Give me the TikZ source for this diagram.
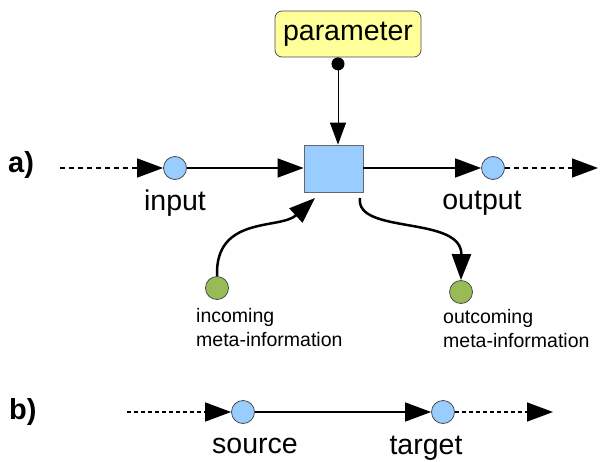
\documentclass[tikz,border=0pt]{standalone}
\usepackage{fontspec}
\setmainfont{Liberation Sans}
\usepackage{tikz}
\usetikzlibrary{arrows.meta,calc}
\definecolor{portblue}{HTML}{99CCFF}
\definecolor{paramyellow}{HTML}{FFFF99}
\definecolor{metagreen}{HTML}{99BB55}

\begin{document}
\begin{tikzpicture}[
    x=1pt, y=-1pt,
    port/.style={circle, draw=black!70, line width=0.8pt, fill=portblue, minimum size=23pt, inner sep=0pt},
    meta/.style={circle, draw=black!70, line width=0.8pt, fill=metagreen, minimum size=23pt, inner sep=0pt},
    block/.style={rectangle, draw=black!60, line width=0.8pt, fill=portblue, minimum width=59pt, minimum height=47pt, inner sep=0pt},
    param/.style={rectangle, rounded corners=7pt, draw=black!70, line width=0.8pt, fill=paramyellow, minimum width=146pt, minimum height=46pt, inner sep=0pt, font=\fontsize{28.5}{30}\selectfont},
    lbl/.style={inner sep=0pt, anchor=base, font=\fontsize{28.5}{30}\selectfont},
    small/.style={inner sep=0pt, anchor=base west, font=\fontsize{19.5}{22}\selectfont},
    tag/.style={inner sep=0pt, anchor=base west, font=\fontsize{29}{30}\selectfont\bfseries},
    flow/.style={line width=1.5pt, -{Triangle[length=26pt,width=19pt]}},
    dflow/.style={flow, dash pattern=on 5pt off 4pt},
    bendflow/.style={line width=2.5pt, -{Triangle[length=26pt,width=19pt]}}
]
\useasboundingbox (0,0) rectangle (601,462);

\node[tag] (tagA) at (8,173) {a)};
\node[port] (in) at (175,168) {};
\node[block] (sq) at (333.5,168.5) {};
\node[port] (out) at (493,168) {};
\node[param] (par) at (348,34) {parameter};
\node[lbl] (inLbl) at (175,210) {input};
\node[lbl] (outLbl) at (482,209) {output};
\coordinate (inStart) at (60,168);
\coordinate (outEnd) at (598,168);
\draw[dflow] (inStart) -- (in);
\draw[flow] (in) -- (in -| sq.west);
\draw[flow] (out -| sq.east) -- (out);
\draw[dflow] (out) -- (outEnd);
\draw[line width=1pt, {Circle[length=13pt]}-{Triangle[length=22pt,width=16pt]}]
  ([xshift=-10pt]par.south) -- ([xshift=-10pt]par.south |- sq.north);

\node[meta] (inMeta) at (217,288) {};
\node[meta] (outMeta) at (461,292) {};
\node[small] (inTxt) at (196,322) {incoming};
\node[small] (inTxtB) at (196,346) {meta-information};
\node[small] (outTxt) at (443,323) {outcoming};
\node[small] (outTxtB) at (443,347) {meta-information};
\coordinate (inTip) at (315,198);
\coordinate (outStart) at (360,198);
\draw[bendflow] (inMeta.north) .. controls (215,215) and (280,230) .. (inTip);
\draw[bendflow] (outStart) .. controls (355,235) and (462,215) .. (outMeta.north);

\node[tag] (tagB) at (9,419) {b)};
\node[port] (src) at (243,412) {};
\node[port] (tgt) at (443,412) {};
\node[lbl] (srcLbl) at (255,453) {source};
\node[lbl] (tgtLbl) at (426,454) {target};
\coordinate (srcStart) at (127,412);
\coordinate (tgtEnd) at (553,412);
\draw[dflow, dash pattern=on 4pt off 3pt] (srcStart) -- (src);
\draw[flow] (src) -- (tgt);
\draw[dflow, dash pattern=on 4pt off 3pt] (tgt) -- (tgtEnd);
\end{tikzpicture}
\end{document}
